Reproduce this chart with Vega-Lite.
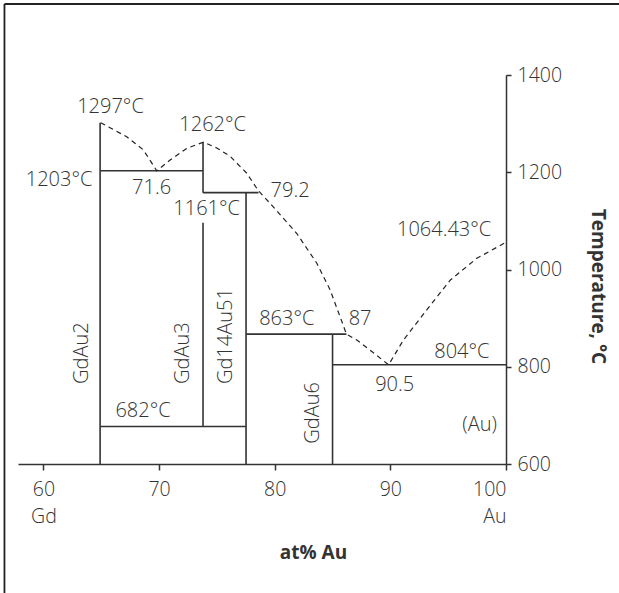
{
  "$schema": "https://vega.github.io/schema/vega-lite/v6.json",
  "width": 488,
  "height": 389,
  "autosize": {"type": "none"},
  "padding": {"left": 18, "top": 75, "right": 113, "bottom": 129},
  "background": "white",
  "config": {
    "view": {"stroke": null},
    "font": "Open Sans",
    "text": {"font": "Open Sans", "fontSize": 20, "fontWeight": 300, "color": "#333"}
  },
  "datasets": {
    "curve": [
      {"i": 1, "x": 64.95, "y": 1302},
      {"i": 2, "x": 67.2, "y": 1273},
      {"i": 3, "x": 68.64, "y": 1246},
      {"i": 4, "x": 69.8, "y": 1203},
      {"i": 5, "x": 70.95, "y": 1225},
      {"i": 6, "x": 72.39, "y": 1249},
      {"i": 7, "x": 73.83, "y": 1262},
      {"i": 8, "x": 74.99, "y": 1250},
      {"i": 9, "x": 76.14, "y": 1233},
      {"i": 10, "x": 77.58, "y": 1198},
      {"i": 11, "x": 78.59, "y": 1162},
      {"i": 12, "x": 79.6, "y": 1136},
      {"i": 13, "x": 81.91, "y": 1074},
      {"i": 14, "x": 83.64, "y": 1013},
      {"i": 15, "x": 84.79, "y": 958},
      {"i": 16, "x": 85.65, "y": 903},
      {"i": 17, "x": 86.2, "y": 867},
      {"i": 18, "x": 87.1, "y": 855},
      {"i": 19, "x": 88.25, "y": 834},
      {"i": 20, "x": 89.85, "y": 804},
      {"i": 21, "x": 91.13, "y": 855},
      {"i": 22, "x": 93.15, "y": 917},
      {"i": 23, "x": 95.17, "y": 978},
      {"i": 24, "x": 97.48, "y": 1023},
      {"i": 25, "x": 100, "y": 1056}
    ],
    "segs": [
      {"x": 64.9, "x2": 64.9, "y": 600, "y2": 1302},
      {"x": 64.9, "x2": 73.8, "y": 1203, "y2": 1203},
      {"x": 73.8, "x2": 73.8, "y": 1262, "y2": 1158},
      {"x": 73.8, "x2": 78.6, "y": 1158, "y2": 1158},
      {"x": 73.8, "x2": 73.8, "y": 1096, "y2": 677},
      {"x": 77.52, "x2": 77.52, "y": 1158, "y2": 600},
      {"x": 64.9, "x2": 77.52, "y": 677, "y2": 677},
      {"x": 77.52, "x2": 86.2, "y": 867, "y2": 867},
      {"x": 85.0, "x2": 85.0, "y": 867, "y2": 600},
      {"x": 85.0, "x2": 100, "y": 804, "y2": 804}
    ],
    "frame": [
      {"x": 56.63, "x2": 110, "y": 1546, "y2": 1546},
      {"x": 56.63, "x2": 56.63, "y": 1546, "y2": 330}
    ],
    "labels": [
      {"label": "1297°C", "x": 65.8, "y": 1334},
      {"label": "1262°C", "x": 74.63, "y": 1297},
      {"label": "1203°C", "x": 61.35, "y": 1184},
      {"label": "71.6", "x": 69.35, "y": 1167},
      {"label": "1161°C", "x": 74.11, "y": 1124},
      {"label": "79.2", "x": 81.33, "y": 1161},
      {"label": "1064.43°C", "x": 94.65, "y": 1082},
      {"label": "863°C", "x": 81.04, "y": 898},
      {"label": "87", "x": 87.38, "y": 898},
      {"label": "804°C", "x": 96.18, "y": 831},
      {"label": "90.5", "x": 90.37, "y": 762},
      {"label": "(Au)", "x": 97.72, "y": 680},
      {"label": "682°C", "x": 68.61, "y": 709}
    ],
    "vlabels": [
      {"label": "GdAu2", "x": 63.36, "y": 828},
      {"label": "GdAu3", "x": 72.07, "y": 828},
      {"label": "Gd14Au51", "x": 75.79, "y": 863},
      {"label": "GdAu6", "x": 83.35, "y": 705}
    ]
  },
  "encoding": {
    "x": {
      "field": "x", "type": "quantitative",
      "scale": {"domain": [57.8, 100], "nice": false, "zero": false},
      "axis": {
        "orient": "bottom", "values": [60, 70, 80, 90, 100], "grid": false,
        "domainColor": "#333", "domainWidth": 1.5, "tickColor": "#333", "tickWidth": 1.5, "tickSize": 6,
        "labelFont": "Open Sans", "labelFontSize": 19.5, "labelFontWeight": 300, "labelColor": "#333",
        "labelPadding": 10, "labelLineHeight": 27, "labelBaseline": "top",
        "labelExpr": "datum.value == 60 ? ['60', 'Gd'] : datum.value == 100 ? ['100', 'Au'] : datum.label",
        "title": "at% Au", "titleFont": "Open Sans", "titleFontSize": 19, "titleFontWeight": "bold", "titleColor": "#333",
        "titleX": 295, "titleY": 94, "titleBaseline": "alphabetic", "titleAlign": "center"
      }
    },
    "y": {
      "field": "y", "type": "quantitative",
      "scale": {"domain": [600, 1400], "nice": false, "zero": false},
      "axis": {
        "orient": "right", "values": [600, 800, 1000, 1200, 1400], "grid": false, "format": "d",
        "domainColor": "#333", "domainWidth": 1.5, "tickColor": "#333", "tickWidth": 1.5, "tickSize": 5,
        "labelFont": "Open Sans", "labelFontSize": 19.5, "labelFontWeight": 300, "labelColor": "#333",
        "labelPadding": 6,
        "title": "Temperature, °C", "titleFont": "Open Sans", "titleFontSize": 19, "titleFontWeight": "bold", "titleColor": "#333",
        "titleAngle": 90, "titleX": 85, "titleY": 211, "titleBaseline": "alphabetic", "titleAlign": "center"
      }
    }
  },
  "layer": [
    {
      "data": {"name": "frame"},
      "mark": {"type": "rule", "color": "#222", "strokeWidth": 1.8},
      "encoding": {"x2": {"field": "x2"}, "y2": {"field": "y2"}}
    },
    {
      "data": {"name": "segs"},
      "mark": {"type": "rule", "color": "#333", "strokeWidth": 1.6},
      "encoding": {"x2": {"field": "x2"}, "y2": {"field": "y2"}}
    },
    {
      "data": {"name": "curve"},
      "mark": {"type": "line", "color": "#222", "strokeWidth": 1.2, "strokeDash": [5, 4]},
      "encoding": {"order": {"field": "i", "type": "quantitative"}}
    },
    {
      "data": {"name": "labels"},
      "mark": {"type": "text", "align": "center", "baseline": "middle"},
      "encoding": {"text": {"field": "label"}}
    },
    {
      "data": {"name": "vlabels"},
      "mark": {"type": "text", "align": "center", "baseline": "middle", "angle": 270},
      "encoding": {"text": {"field": "label"}}
    }
  ]
}
